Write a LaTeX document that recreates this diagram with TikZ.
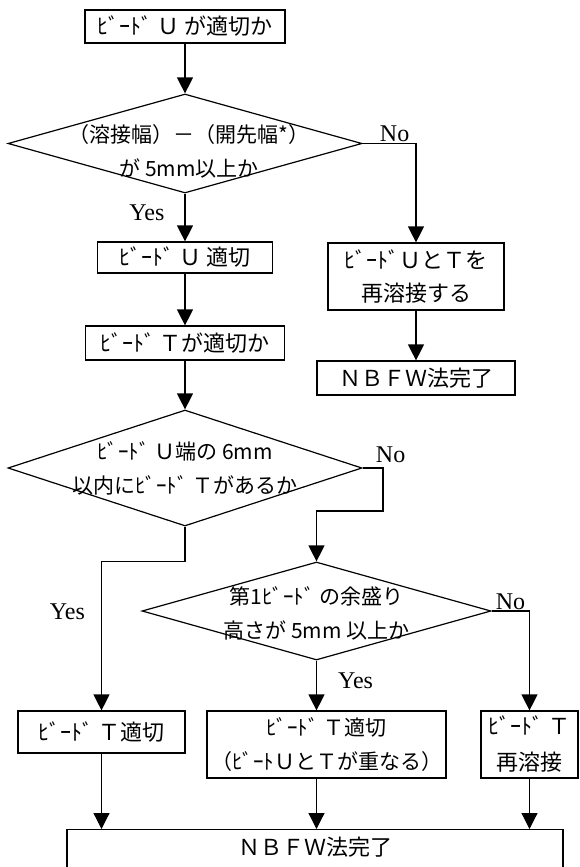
\documentclass[tikz,border=0pt]{standalone}
\usepackage{fontspec}
\setmainfont{Liberation Serif}
\newfontfamily\jp{Noto Sans CJK JP}
\usetikzlibrary{arrows.meta, shapes.geometric, positioning}

\begin{document}
\begin{tikzpicture}[x=1pt, y=-1pt,
    box/.style={draw, line width=1.2pt, inner sep=0pt, align=center,
      font=\jp\fontsize{22}{33}\selectfont},
    decision/.style={draw, diamond, line width=1.2pt, inner sep=0pt},
    dtext/.style={align=center, inner sep=0pt, font=\jp\fontsize{21}{34}\selectfont},
    lbl/.style={font=\fontsize{24}{26}\selectfont, inner sep=1pt},
    arr/.style={line width=1.2pt, -{Triangle[length=16pt, width=16pt]}}]
  \useasboundingbox (0,0) rectangle (579,867);
  \clip (0,0) rectangle (579,867);

  %► Left column
  \node[box, minimum width=200, minimum height=33] (b1) at (185,26.5) {ﾋﾞｰﾄﾞ Ｕ が適切か};
  \node[decision, minimum width=354, minimum height=99] (d1) at (185,143.5) {};
  \node[dtext] (d1t) at ([xshift=4pt,yshift=-8pt]d1.center) {（溶接幅）－（開先幅*）\\が 5mm以上か};
  \node[box, minimum width=175, minimum height=31] (b2) at (185,257.5) {ﾋﾞｰﾄﾞ Ｕ 適切};
  \node[box, minimum width=199, minimum height=34] (b3) at (185,343) {ﾋﾞｰﾄﾞ Ｔが適切か};
  \node[decision, minimum width=354, minimum height=116] (d2) at (185,468) {};
  \node[dtext] (d2t) at (d2.center) {ﾋﾞｰﾄﾞ Ｕ端の 6mm\\以内にﾋﾞｰﾄﾞ Ｔがあるか};

  %► Right column
  \node[box, minimum width=176, minimum height=67] (r1) at (416,276.5) {ﾋﾞｰﾄﾞＵとＴを\\再溶接する};
  \node[box, minimum width=198, minimum height=34] (r2) at (416,378) {ＮＢＦＷ法完了};

  %► Lower part
  \node[decision, minimum width=349, minimum height=98] (d3) at (316.5,611) {};
  \node[dtext] (d3t) at ([yshift=-2pt]d3.center) {第1ﾋﾞｰﾄﾞ の余盛り\\高さが 5mm 以上か};
  \node[box, minimum width=167, minimum height=42] (b4) at (101.5,732) {ﾋﾞｰﾄﾞ Ｔ適切};
  \node[box, minimum width=239, minimum height=67, font=\jp\fontsize{21}{34}\selectfont] (b5) at (326.5,744.5) {ﾋﾞｰﾄﾞ Ｔ適切\\（ﾋﾞｰﾄＵとＴが重なる）};
  \node[box, minimum width=97, minimum height=67, font=\jp\fontsize{22}{36}\selectfont] (b6) at (529.5,744.5) {ﾋﾞｰﾄﾞ Ｔ\\再溶接};
  \node[box, anchor=north, minimum width=496, minimum height=70, text depth=36pt] (fin) at (315,829) {ＮＢＦＷ法完了};

  %► Connectors
  \draw[arr] (b1.south) -- (d1.north);
  \draw[arr] (d1.south) -- node[lbl, left=19pt, pos=0.4] (y1) {Yes} (b2.north);
  \draw[arr] (d1.east) -| node[lbl, above, pos=0.3] (n1) {No} (r1.north);
  \draw[arr] (b2.south) -- (b3.north);
  \draw[arr] (r1.south) -- (r2.north);
  \draw[arr] (b3.south) -- (d2.north);
  \coordinate (c2) at (383,511);
  \draw[arr] (d2.east) -| (c2) -| (d3.north);
  \node[lbl] (n2) at ([xshift=28pt,yshift=13pt]d2.east) {No};
  \draw[arr] (d2.south) -- ++(0,35) -| node[lbl, left=15pt, pos=0.67] (y2) {Yes} (b4.north);
  \draw[arr] (d3.east) -| node[lbl, above, pos=0.25] (n3) {No} (b6.north);
  \draw[arr] (d3.south) -- node[lbl, right=20pt, pos=0.4] (y3) {Yes} (d3.south |- b5.north);
  \draw[arr] (b4.south) -- (b4.south |- fin.north);
  \draw[arr] (d3.south |- b5.south) -- (d3.south |- fin.north);
  \draw[arr] (b6.south) -- (b6.south |- fin.north);
\end{tikzpicture}
\end{document}
